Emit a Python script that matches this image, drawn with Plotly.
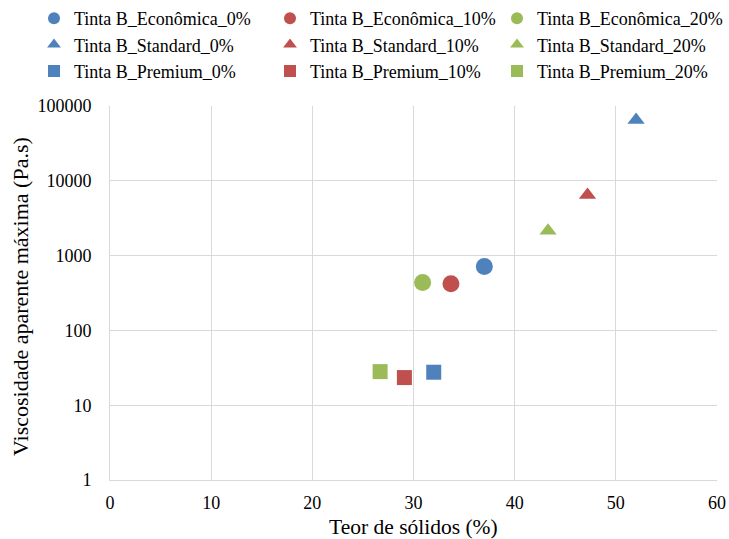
import plotly.graph_objects as go

# Data
names = [
    "Tinta B_Econômica_0%", "Tinta B_Econômica_10%", "Tinta B_Econômica_20%",
    "Tinta B_Standard_0%", "Tinta B_Standard_10%", "Tinta B_Standard_20%",
    "Tinta B_Premium_0%", "Tinta B_Premium_10%", "Tinta B_Premium_20%",
]
solids = [37.0, 33.7, 30.9, 52.0, 47.2, 43.3, 32.0, 29.1, 26.7]
viscosity = [713, 420, 436, 65000, 6450, 2150, 27.6, 23.4, 28.1]

x_ticks = [0, 10, 20, 30, 40, 50, 60]
y_ticks = [1, 10, 100, 1000, 10000, 100000]
y_tick_labels = ["1", "10", "100", "1000", "10000", "100000"]
x_title = "Teor de sólidos (%)"
y_title = "Viscosidade aparente máxima (Pa.s)"

colors = ["#4F81BD", "#C0504D", "#9BBB59"]
symbols = {"Econômica": ("circle", 17), "Standard": ("triangle-up", 15), "Premium": ("square", 15)}

FONT = "Liberation Serif, Times New Roman, serif"
W, H = 729, 539
ML, MR, MT, MB = 110, 12, 106, 59
PW, PH = W - ML - MR, H - MT - MB

fig = go.Figure()
for i, (n, xv, yv) in enumerate(zip(names, solids, viscosity)):
    kind = n.split("_")[1]
    sym, sz = symbols[kind]
    col = colors[i % 3]
    leg = ["legend", "legend2", "legend3"][i % 3]
    fig.add_trace(go.Scatter(
        x=[xv], y=[yv], mode="markers", name=n,
        marker=dict(symbol=sym, size=sz, color=col, line=dict(width=0)),
        legend=leg,
    ))

leg_common = dict(
    xref="container", yref="container", xanchor="left", yanchor="top",
    font=dict(family=FONT, size=18, color="#000000"),
    bgcolor="rgba(0,0,0,0)", itemwidth=30, tracegroupgap=0,
    itemsizing="constant",
)
ytop = 1 + 1 / H
fig.update_layout(
    width=W, height=H,
    margin=dict(l=ML, r=MR, t=MT, b=MB, autoexpand=False),
    paper_bgcolor="white", plot_bgcolor="white",
    font=dict(family=FONT, size=17, color="#000000"),
    legend=dict(x=34/W, y=ytop, **leg_common),
    legend2=dict(x=270/W, y=ytop, **leg_common),
    legend3=dict(x=497/W, y=ytop, **leg_common),
    xaxis=dict(
        range=[0, 60], tickvals=x_ticks, ticktext=[str(v) for v in x_ticks],
        showgrid=True, gridcolor="#D9D9D9", gridwidth=1,
        showline=True, linecolor="#D9D9D9", linewidth=1, mirror=False,
        zeroline=False, ticks="", ticklen=0, ticklabelstandoff=6,
        tickfont=dict(family=FONT, size=18, color="#000000"),
    ),
    yaxis=dict(
        type="log", range=[0, 5], tickvals=y_ticks, ticktext=y_tick_labels,
        showgrid=True, gridcolor="#D9D9D9", gridwidth=1,
        showline=True, linecolor="#D9D9D9", linewidth=1,
        zeroline=False, ticks="", ticklen=0, ticklabelstandoff=14,
        tickfont=dict(family=FONT, size=18, color="#000000"),
    ),
    annotations=[
        dict(text=x_title, xref="paper", yref="paper", x=0.5, y=-(527 - (H - MB)) / PH,
             xanchor="center", yanchor="middle", showarrow=False,
             font=dict(family=FONT, size=21.5, color="#000000")),
        dict(text=y_title, xref="paper", yref="paper", x=-(ML - 20) / PW,
             y=((H - MB) - 297) / PH,
             xanchor="center", yanchor="middle", showarrow=False, textangle=-90,
             font=dict(family=FONT, size=22, color="#000000")),
    ],
)

fig.write_html("out.html", config={"displayModeBar": False},
               post_script="document.body.style.margin='0px';")
